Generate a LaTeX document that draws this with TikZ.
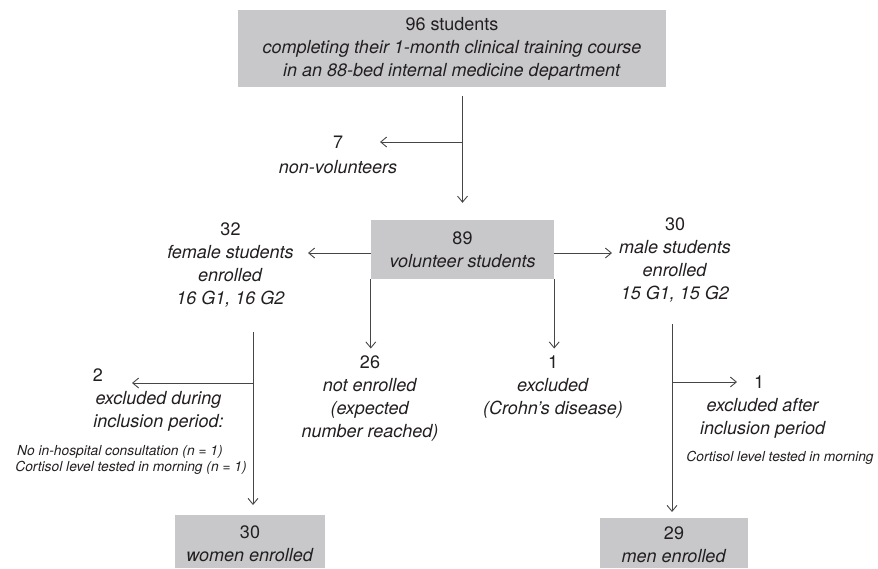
\documentclass[tikz,border=0pt]{standalone}
\usepackage{fontspec}
\setmainfont{TeX Gyre Heros}
\usepackage{tikz}
\usetikzlibrary{arrows.meta, calc, positioning}
\definecolor{boxgray}{RGB}{200,200,202}
\definecolor{inkdark}{RGB}{35,31,32}
\definecolor{linegray}{RGB}{70,70,70}
\newcommand{\mainsize}{\fontsize{18pt}{23pt}\selectfont}
\newcommand{\notesize}{\fontsize{13.8pt}{16pt}\selectfont}

\begin{document}
\begin{tikzpicture}[x=1pt, y=-1pt,
    box/.style={fill=boxgray, inner sep=0pt, align=center, font=\mainsize, text=inkdark},
    lbl/.style={inner sep=0pt, align=center, font=\mainsize, text=inkdark},
    note/.style={inner sep=0pt, font=\notesize\itshape, text=inkdark},
    flow/.style={draw=linegray, line width=0.9pt, -{Straight Barb[length=6pt, width=10pt]}}]
    \useasboundingbox (0,0) rectangle (878,568);

    % Boxes
    \node[box, minimum width=428pt, minimum height=77pt] (top) at (452,48.5)
        {96 students\\ \textit{completing their 1-month clinical training course}\\ \textit{in an 88-bed internal medicine department}};
    \node[box, minimum width=183pt, minimum height=59pt] (vol) at (462.5,249.5)
        {89\\ \textit{volunteer students}};
    % bottom boxes run off the lower edge
    \node[box, minimum width=150pt, minimum height=53pt, anchor=north] (women) at (250,515) {};
    \node[lbl, anchor=north] (womenT) at (250,526) {30\\ \textit{women enrolled}};
    \node[box, minimum width=148pt, minimum height=50pt, anchor=north] (men) at (674,518) {};
    \node[lbl, anchor=north] (menT) at (674,526.5) {29\\ \textit{men enrolled}};

    % Side labels
    \node[lbl, anchor=north] (nonvol) at (338,135.5) {7\\[2pt] \textit{non-volunteers}};
    \node[lbl, anchor=north] (female) at (230.5,222.5) {32\\ \textit{female students}\\ \textit{enrolled}\\ \textit{16 G1, 16 G2}};
    \node[lbl, anchor=north] (male) at (675,217.5) {30\\ \textit{male students}\\ \textit{enrolled}\\ \textit{15 G1, 15 G2}};
    \node[lbl, anchor=north] (notenr) at (370,355.5) {26\\ \textit{not enrolled}\\ \textit{(expected}\\ \textit{number reached)}};
    \node[lbl, anchor=north] (crohn) at (553,355.5) {1\\ \textit{excluded}\\ \textit{(Crohn's disease)}};
    \node[lbl] (num2) at (98,375) {2};
    \node[lbl, anchor=north] (exclL) at (158.5,391.5) {\textit{excluded during}\\ \textit{inclusion period:}};
    \node[note] (noteA) at (120,452) {No in-hospital consultation (n = 1)};
    \node[note] (noteB) at (131,468) {Cortisol level tested in morning (n = 1)};
    \node[lbl] (num1r) at (759,382) {1};
    \node[lbl, anchor=north] (exclR) at (763,398.5) {\textit{excluded after}\\ \textit{inclusion period}};
    \node[note] (noteC) at (780,458) {Cortisol level tested in morning};

    % Junctions and arrow ends
    \coordinate (j7) at (462.5,142);
    \coordinate (tip7) at (380,142);
    \coordinate (tipF) at (308,253);
    \coordinate (tipM) at (612,253);
    \coordinate (fs) at (253,332);
    \coordinate (fb) at (253,383);
    \coordinate (tip2) at (132,383);
    \coordinate (ms) at (672,324);
    \coordinate (mb) at (672,382);
    \coordinate (tip1) at (737,382);

    % Connectors
    \draw[flow, shorten <=9pt, shorten >=17pt] (top.south -| vol.north) -- (vol.north);
    \draw[flow] (j7) -- (tip7);
    \draw[flow] (vol.west |- tipF) -- (tipF);
    \draw[flow] (vol.east |- tipM) -- (tipM);
    \draw[flow, shorten >=7pt] (vol.south west) -- (vol.south west |- notenr.north);
    \draw[flow, shorten >=7pt] (vol.south east) -- (vol.south east |- crohn.north);
    \draw[flow, shorten >=10pt] (fs) -- (fs |- women.north);
    \draw[flow] (fb) -- (tip2);
    \draw[flow, shorten >=6pt] (ms) -- (ms |- men.north);
    \draw[flow] (mb) -- (tip1);
\end{tikzpicture}
\end{document}
